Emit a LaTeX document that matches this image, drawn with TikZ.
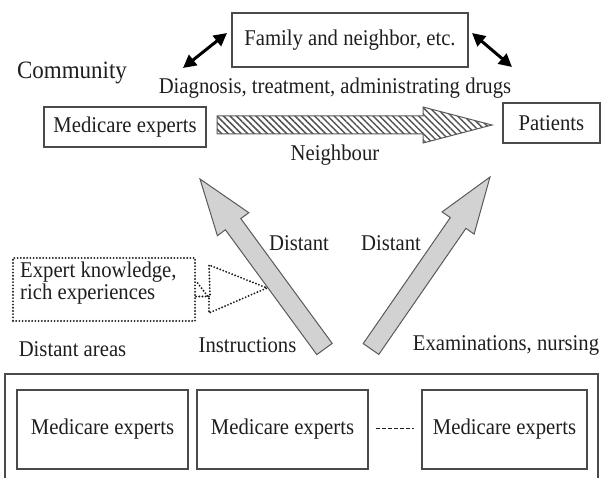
\documentclass[tikz,border=0pt]{standalone}
\usepackage{fontspec}
\setmainfont{Liberation Serif}[FakeStretch=0.92]
\usetikzlibrary{arrows.meta,patterns.meta}
\definecolor{txt}{HTML}{1E1E1E}
\definecolor{bord}{HTML}{4A4A4A}
\definecolor{arrfill}{HTML}{D2D2D2}
\definecolor{arrbord}{HTML}{5A5A5A}
\begin{document}
\begin{tikzpicture}[x=1pt,y=-1pt,
  every node/.style={font=\fontsize{22.5}{23}\selectfont, text=txt, inner sep=0pt},
  box/.style={draw=bord, line width=1.3pt},
  dotbox/.style={draw=txt, line width=2.1pt, line cap=round, dash pattern=on 0pt off 3.2pt},
  dbl/.style={line width=3pt, draw=black, {Triangle[length=13pt,width=13pt]}-{Triangle[length=13pt,width=13pt]}},
  grayarrow/.style={fill=arrfill, draw=arrbord, line width=1pt, line join=miter},
  hatcharrow/.style={draw=arrbord, line width=1pt,
     pattern={Lines[angle=-45,distance=4.6pt,line width=1.5pt]}, pattern color=gray!65!black}]
\useasboundingbox (0,0) rectangle (603,478);

% community part
\node[box, minimum width=236pt, minimum height=54pt] (fam) at (350,40) {Family and neighbor, etc.};
\node[font=\fontsize{25}{26}\selectfont] (comm) at (72,73) {Community};
\node (diag) at (335,88) {Diagnosis, treatment, administrating drugs};
\node[box, minimum width=162pt, minimum height=40pt] (med) at (125,127) {Medicare experts};
\node[box, minimum width=97pt, minimum height=40pt] (pat) at (551.5,123) {Patients};
\node (neigh) at (335,155) {Neighbour};

\coordinate (la1) at (183,68);
\coordinate (la2) at (227,33);
\coordinate (ra1) at (472,33);
\coordinate (ra2) at (512,67);
\draw[dbl] (la1) -- (la2);
\draw[dbl] (ra1) -- (ra2);

% hatched arrow
\draw[hatcharrow] (217,116) -- (423,116) -- (423,107) -- (492,125) -- (423,143) -- (423,134) -- (217,134) -- cycle;

% gray arrows
\draw[grayarrow] (332.2,343.4) -- (240.8,218.6) -- (248.8,212.7) -- (200,179) -- (217.4,235.7) -- (225.4,229.8) -- (316.8,354.6) -- cycle;
\draw[grayarrow] (378.8,354.4) -- (465.9,228.4) -- (474.1,234.1) -- (490,177) -- (442.1,211.9) -- (450.3,217.6) -- (363.2,343.6) -- cycle;

\node (distL) at (299,243) {Distant};
\node (distR) at (391,243) {Distant};

% dotted box and arrow
\node[dotbox, minimum width=182pt, minimum height=63pt] (exp) at (104,289.5) {};
\node[align=left, anchor=west] (exptxt) at (20,283) {Expert knowledge,\\[-1pt]rich experiences};
\draw[dotbox, line join=round] ([yshift=-7pt]exp.east) -- ++(14,0) -- (209,265) -- (267,288) -- (209,313) -- (209,298) -- ([yshift=8.5pt]exp.east);

\node (darea) at (72.5,349) {Distant areas};
\node (instr) at (247.5,345) {Instructions};
\node (exam) at (506,345) {Examinations, nursing};

% distant area experts
\draw[box] (5,480) -- (5,374) -- (598,374) -- (598,480);
\node[box, minimum width=171pt, minimum height=79pt] (m1) at (102.5,429.5) {Medicare experts};
\node[box, minimum width=171pt, minimum height=79pt] (m2) at (282.5,429.5) {Medicare experts};
\node[box, minimum width=165pt, minimum height=79pt] (m3) at (504.5,429.5) {Medicare experts};
\draw[draw=txt, line width=1pt, dash pattern=on 4pt off 2pt] ([xshift=7pt,yshift=1pt]m2.east) -- ([xshift=-7pt,yshift=1pt]m3.west);
\end{tikzpicture}
\end{document}
